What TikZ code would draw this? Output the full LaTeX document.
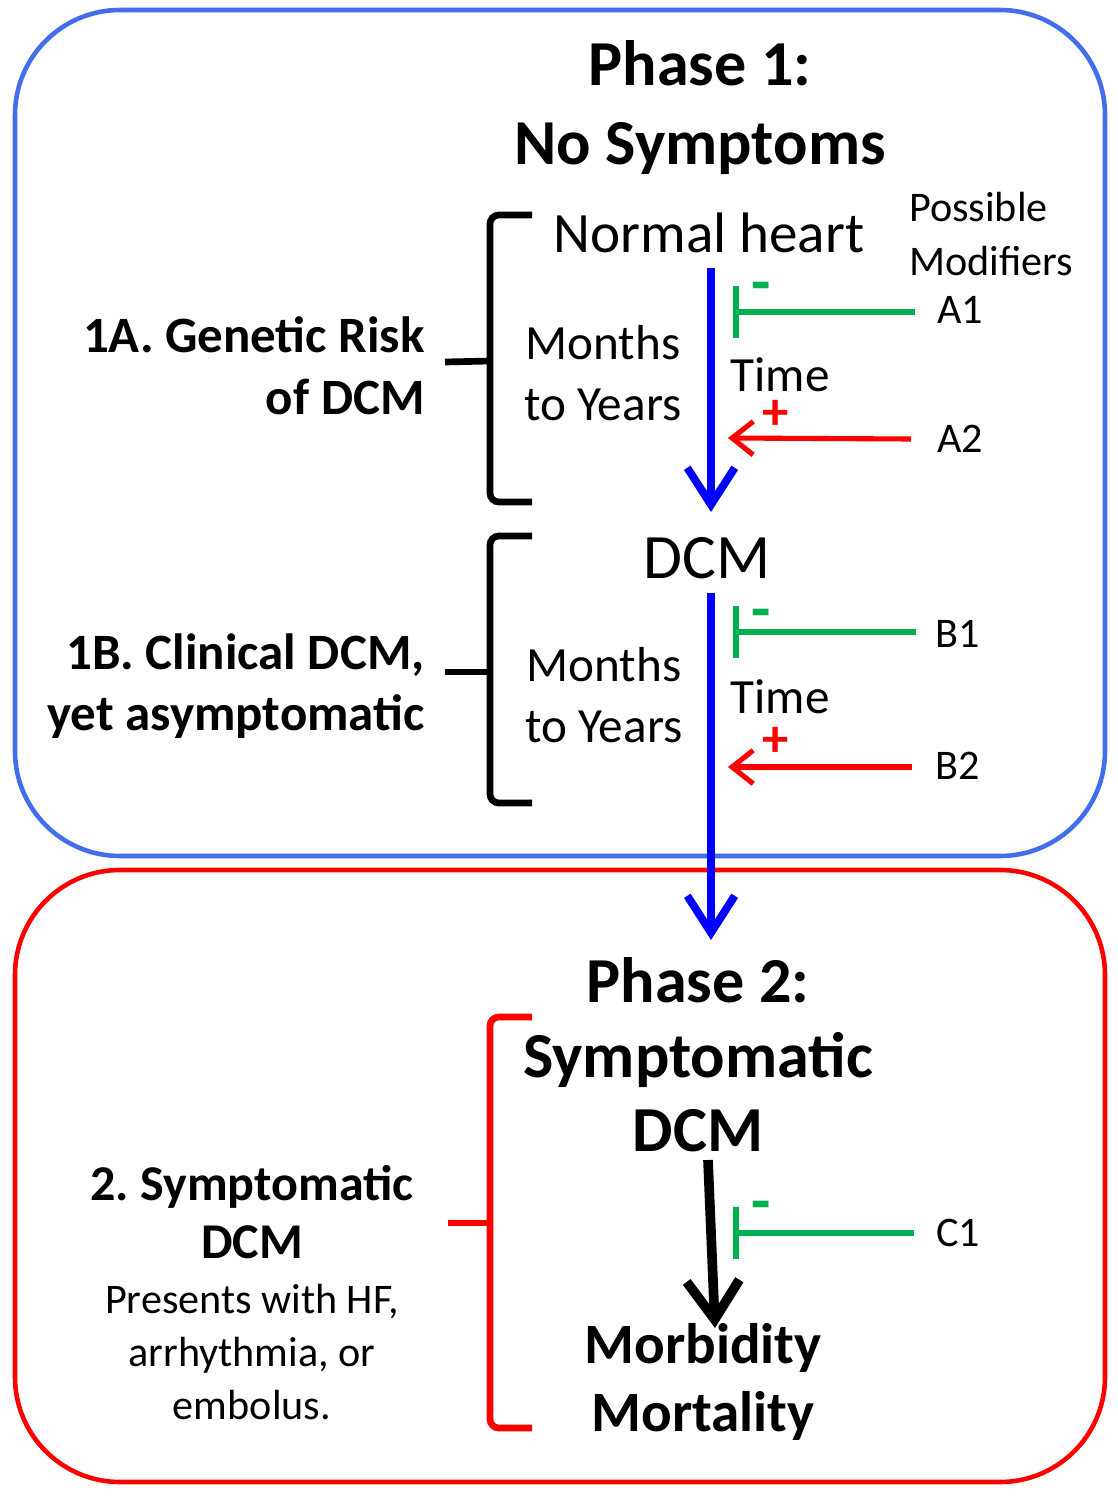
\documentclass[tikz,border=0pt]{standalone}
\usepackage{fontspec}
\setmainfont{Carlito}
\usetikzlibrary{arrows.meta}
\definecolor{boxblue}{RGB}{66,110,235}
\definecolor{grn}{RGB}{0,176,80}
\definecolor{rd}{RGB}{255,0,0}
\definecolor{bl}{RGB}{0,0,255}
\tikzset{
  txt/.style={inner sep=0pt, align=center},
  phasebox/.style={line width=2.6pt, rounded corners=2.1cm},
  brack/.style={line width=3.8pt, rounded corners=5pt},
  timearrow/.style={bl, line width=4.5pt, -{Straight Barb[length=21pt,width=27pt]}},
  inhib/.style={grn, line width=3.4pt, -{Bar[width=30pt]}},
  promo/.style={rd, line width=2.9pt, -{Straight Barb[length=12pt,width=19pt]}},
  minus/.style={inner sep=0pt, anchor=base, grn, font=\fontsize{36}{36}\selectfont\bfseries},
  plus/.style={inner sep=0pt, anchor=base, rd, font=\fontsize{30}{30}\selectfont\bfseries},
}
\begin{document}
\begin{tikzpicture}[x=0.02cm,y=-0.02cm]
\path[use as bounding box, fill=white] (0,0) rectangle (1118,1500);
% boxes
\draw[phasebox, boxblue] (15,10) rectangle (1105,856);
\draw[phasebox, rd] (15,870) rectangle (1105,1482);

% Phase 1 titles
\node[txt, font=\fontsize{36.5}{45}\selectfont\bfseries] (ph1) at (700,108) {Phase 1:\\No Symptoms};
\node[txt, font=\fontsize{32.5}{38}\selectfont] (normal) at (709,233) {Normal heart};
\node[txt, font=\fontsize{24}{30.6}\selectfont, align=left] (mods) at (991,234) {Possible\\Modifiers};
\node[txt, font=\fontsize{28}{35}\selectfont] (my1) at (603,373) {Months\\to Years};
\node[txt, font=\fontsize{28}{35}\selectfont] (time1) at (780,375) {Time};
\node[txt, font=\fontsize{29}{35}\selectfont\bfseries, align=right, anchor=east] (g1a) at (425,366) {1A. Genetic Risk\\of DCM};
\node[txt, font=\fontsize{24}{30}\selectfont] (a1) at (960,310) {A1};
\node[txt, font=\fontsize{24}{30}\selectfont] (a2) at (960,439) {A2};

\node[txt, font=\fontsize{36}{40}\selectfont] (dcm) at (707,558) {DCM};
\node[txt, font=\fontsize{28}{35}\selectfont] (my2) at (604,695) {Months\\to Years};
\node[txt, font=\fontsize{28}{35}\selectfont] (time2) at (780,697) {Time};
\node[txt, font=\fontsize{29}{35}\selectfont\bfseries, align=right, anchor=east] (g1b) at (425,686) {1B. Clinical DCM,\\yet asymptomatic};
\node[txt, font=\fontsize{24}{30}\selectfont] (b1) at (958,634) {B1};
\node[txt, font=\fontsize{24}{30}\selectfont] (b2) at (958,766) {B2};

% Phase 2
\node[txt, font=\fontsize{36.5}{42.5}\selectfont\bfseries] (ph2) at (698,1055) {Phase 2:\\Symptomatic\\DCM};
\node[txt, font=\fontsize{32.5}{38.5}\selectfont\bfseries] (morb) at (703,1382) {Morbidity\\Mortality};
\node[txt, font=\fontsize{28.5}{33}\selectfont\bfseries] (g2) at (252,1212) {2.~Symptomatic\\DCM};
\node[txt, font=\fontsize{24}{30}\selectfont] (pres) at (252,1352) {Presents with HF,\\arrhythmia, or\\embolus.};
\node[txt, font=\fontsize{24}{30}\selectfont] (c1) at (958,1233) {C1};

% brackets
\coordinate (bA) at (490,361);
\draw[brack] (532,215) -- (490,215) -- (490,502) -- (532,502);
\draw[line width=3.8pt] (445,362) -- (bA);
\draw[brack] (532,536) -- (490,536) -- (490,803) -- (532,803);
\coordinate (bB) at (490,672);
\draw[line width=3.8pt] (445,672) -- (bB);
\draw[brack, rd] (532,1017) -- (490,1017) -- (490,1428) -- (532,1428);
\coordinate (bC) at (490,1223);
\draw[line width=3.8pt, rd] (448,1223) -- (bC);

% main time arrows
\coordinate (s1) at (711,268);
\coordinate (e1) at (711,512);
\coordinate (s2) at (711,593);
\coordinate (e2) at (711,940);
\draw[timearrow] (s1) -- (e1);
\draw[timearrow] (s2) -- (e2);
\coordinate (s3) at (708,1160);
\coordinate (e3) at (715,1328);
\draw[line width=5.5pt, -{Straight Barb[length=22pt,width=30pt]}] (s3) -- (e3);

% modifiers
\coordinate (ia1) at (733,312);
\draw[inhib] (a1.west) ++(-22,2) -- (ia1);
\node[minus] (m1) at (761,304) {-};
\coordinate (pa2) at (728,438);
\draw[promo] (a2.west) ++(-26,0) -- (pa2);
\node[plus] (p1) at (776,429) {+};

\coordinate (ib1) at (733,632);
\draw[inhib] (b1.west) ++(-20,-2) -- (ib1);
\node[minus] (m2) at (761,630) {-};
\coordinate (pb2) at (728,767);
\draw[promo] (b2.west) ++(-24,1) -- (pb2);
\node[plus] (p2) at (776,756) {+};

\coordinate (ic1) at (733,1233);
\draw[inhib] (c1.west) ++(-22,0) -- (ic1);
\node[minus] (m3) at (761,1222) {-};
\end{tikzpicture}
\end{document}
